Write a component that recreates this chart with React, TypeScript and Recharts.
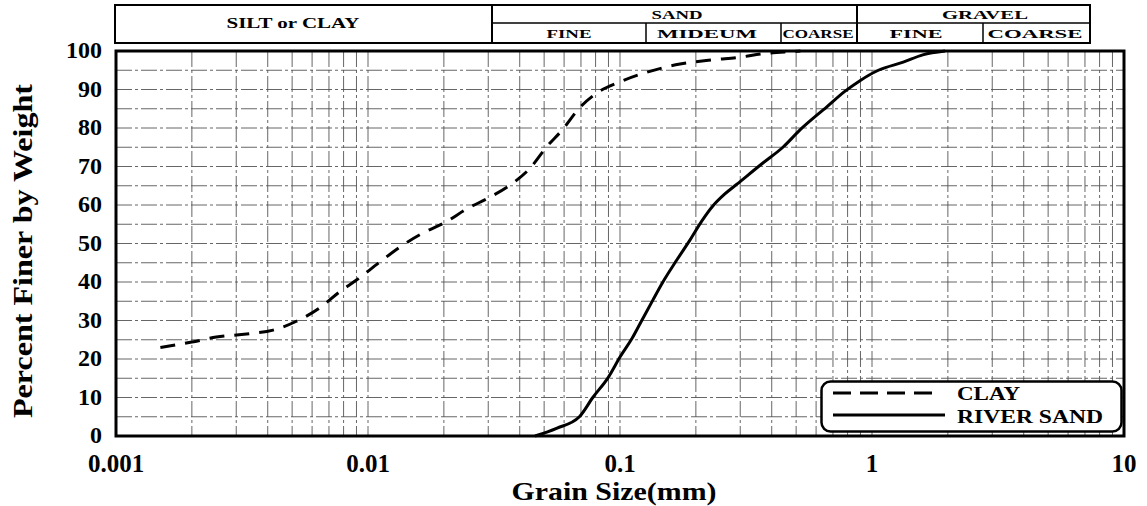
import { LineChart, Line, XAxis, YAxis, CartesianGrid, Legend, ReferenceArea } from 'recharts';

// grain size (mm) and percent finer
const clayGrain = [0.0015, 0.002, 0.0025, 0.0033, 0.0042, 0.0052, 0.0065, 0.0077, 0.009, 0.011, 0.0134, 0.0165, 0.02, 0.025, 0.03, 0.0376, 0.044, 0.051, 0.059, 0.069, 0.081, 0.1, 0.128, 0.173, 0.234, 0.3, 0.37, 0.46, 0.52];
const clayPercent = [23, 24.4, 25.7, 26.5, 27.5, 29.8, 33.5, 37.4, 40.5, 44.9, 49.1, 52.7, 55.3, 59.2, 61.8, 65.7, 69.6, 75, 79.5, 85.2, 89.1, 92, 94.5, 96.6, 97.7, 98.4, 99.3, 99.8, 100];

const sandGrain = [0.046, 0.056, 0.069, 0.078, 0.09, 0.1, 0.112, 0.122, 0.135, 0.148, 0.168, 0.19, 0.211, 0.234, 0.26, 0.291, 0.369, 0.443, 0.518, 0.662, 0.78, 0.896, 1.06, 1.33, 1.59, 1.95];
const sandPercent = [0, 2, 5, 10, 15.3, 20.5, 25.5, 30, 35.3, 40, 45.7, 51, 55.8, 59.8, 62.8, 65.4, 70.9, 75, 79.5, 85.5, 89.5, 92.3, 95, 97.1, 99, 100];

const decades = [0.001, 0.01, 0.1, 1, 10];
const decadeLabels = ['0.001', '0.01', '0.1', '1', '10'];
const minorSteps = [2, 3, 4, 5, 6, 7, 8, 9];
const percentTicks = [0, 5, 10, 15, 20, 25, 30, 35, 40, 45, 50, 55, 60, 65, 70, 75, 80, 85, 90, 95, 100];

const seriesNames = ['CLAY', 'RIVER SAND'];

// soil classification table above the plot
const zoneNames = ['SILT or CLAY', 'SAND', 'GRAVEL'];
const sandParts = ['FINE', 'MIDEUM', 'COARSE'];
const gravelParts = ['FINE', 'COARSE'];

const clayData = clayGrain.map((d, i) => ({ d, p: clayPercent[i] }));
const sandData = sandGrain.map((d, i) => ({ d, p: sandPercent[i] }));

const xTicks = decades.flatMap((d, i) =>
  i < decades.length - 1 ? [d, ...minorSteps.map((m) => +(d * m).toPrecision(3))] : [d]
);

const serif = '"Liberation Serif", "Times New Roman", serif';

function XTick({ x, y, payload }: any) {
  const i = decades.indexOf(payload.value);
  if (i < 0) return <g />;
  return (
    <text x={x} y={y} dy="0.71em" textAnchor="middle" fontFamily={serif} fontWeight="bold" fontSize={25} fill="#000">
      {decadeLabels[i]}
    </text>
  );
}

function YTick({ x, y, payload }: any) {
  if (payload.value % 10 !== 0) return <g />;
  return (
    <text x={x} y={y} dy="0.3em" textAnchor="end" fontFamily={serif} fontWeight="bold" fontSize={24} fill="#000">
      {payload.value}
    </text>
  );
}

function LegendBox() {
  return (
    <svg width={304} height={54}>
      <rect x={1.5} y={1.5} width={300} height={50} rx={9} fill="#fff" stroke="#000" strokeWidth={2.5} />
      <line x1={13} x2={112} y1={13} y2={13} stroke="#000" strokeWidth={3} strokeDasharray="18 9" />
      <text x={137} y={20} fontFamily={serif} fontWeight="bold" fontSize={18} textLength={63} lengthAdjust="spacingAndGlyphs">
        {seriesNames[0]}
      </text>
      <line x1={13} x2={125} y1={35} y2={35} stroke="#000" strokeWidth={3} />
      <text x={137} y={43} fontFamily={serif} fontWeight="bold" fontSize={18} textLength={146} lengthAdjust="spacingAndGlyphs">
        {seriesNames[1]}
      </text>
    </svg>
  );
}

function HeaderText({ x, y, w, children, size = 13.5 }: any) {
  return (
    <text x={x - w / 2} y={y} fontFamily={serif} fontWeight="bold" fontSize={size} textLength={w} lengthAdjust="spacingAndGlyphs">
      {children}
    </text>
  );
}

function Overlay() {
  return (
    <svg width={1147} height={506} style={{ position: 'absolute', left: 0, top: 0, pointerEvents: 'none' }}>
      <g stroke="#000" fill="none">
        <rect x={115} y={5} width={975} height={38} strokeWidth={2} />
        <line x1={492} x2={492} y1={5} y2={43} strokeWidth={2} />
        <line x1={857} x2={857} y1={5} y2={43} strokeWidth={2} />
        <line x1={492} x2={1090} y1={23} y2={23} strokeWidth={1.5} />
        <line x1={646} x2={646} y1={23} y2={43} strokeWidth={1.5} />
        <line x1={781} x2={781} y1={23} y2={43} strokeWidth={1.5} />
        <line x1={983} x2={983} y1={23} y2={43} strokeWidth={1.5} />
      </g>
      <HeaderText x={293} y={28} w={133} size={15}>{zoneNames[0]}</HeaderText>
      <HeaderText x={677} y={18.5} w={51}>{zoneNames[1]}</HeaderText>
      <HeaderText x={985} y={18.5} w={86}>{zoneNames[2]}</HeaderText>
      <HeaderText x={569} y={38} w={45}>{sandParts[0]}</HeaderText>
      <HeaderText x={707} y={38} w={100}>{sandParts[1]}</HeaderText>
      <HeaderText x={818} y={38} w={71}>{sandParts[2]}</HeaderText>
      <HeaderText x={916} y={38} w={53}>{gravelParts[0]}</HeaderText>
      <HeaderText x={1035} y={38} w={95}>{gravelParts[1]}</HeaderText>

      <text x={614} y={500} textAnchor="middle" fontFamily={serif} fontWeight="bold" fontSize={25} textLength={205} lengthAdjust="spacingAndGlyphs">
        Grain Size(mm)
      </text>
      <text transform="translate(32,251) rotate(-90)" textAnchor="middle" fontFamily={serif} fontWeight="bold" fontSize={28} textLength={334} lengthAdjust="spacingAndGlyphs">
        Percent Finer by Weight
      </text>
    </svg>
  );
}

export default function App() {
  return (
    <div style={{ position: 'absolute', left: 0, top: 0, width: 1147, height: 506, background: '#fff' }}>
      <LineChart width={1147} height={506} margin={{ top: 51, right: 23, bottom: 30, left: 56 }}>
        <CartesianGrid stroke="#555" strokeWidth={0.9} strokeDasharray="16 3 3 3" />
        <XAxis
          dataKey="d"
          type="number"
          scale="log"
          domain={[0.001, 10]}
          allowDataOverflow
          ticks={xTicks}
          interval={0}
          tick={<XTick />}
          tickSize={0}
          tickMargin={18}
          axisLine={false}
          height={40}
        />
        <YAxis
          type="number"
          domain={[0, 100]}
          ticks={percentTicks}
          interval={0}
          tick={<YTick />}
          tickSize={0}
          tickMargin={14}
          axisLine={false}
          width={60}
        />
        <Line
          data={clayData}
          dataKey="p"
          name={seriesNames[0]}
          type="monotone"
          stroke="#000"
          strokeWidth={3}
          strokeDasharray="15 10"
          dot={false}
          activeDot={false}
          isAnimationActive={false}
        />
        <Line
          data={sandData}
          dataKey="p"
          name={seriesNames[1]}
          type="monotone"
          stroke="#000"
          strokeWidth={3}
          dot={false}
          activeDot={false}
          isAnimationActive={false}
        />
        <ReferenceArea x1={0.001} x2={10} y1={0} y2={100} fill="none" stroke="#000" strokeWidth={3} />
        <Legend
          layout="vertical"
          align="center"
          verticalAlign="middle"
          content={<LegendBox />}
          wrapperStyle={{ position: 'absolute', left: 820, top: 380, width: 304, height: 54 }}
        />
      </LineChart>
      <Overlay />
    </div>
  );
}
